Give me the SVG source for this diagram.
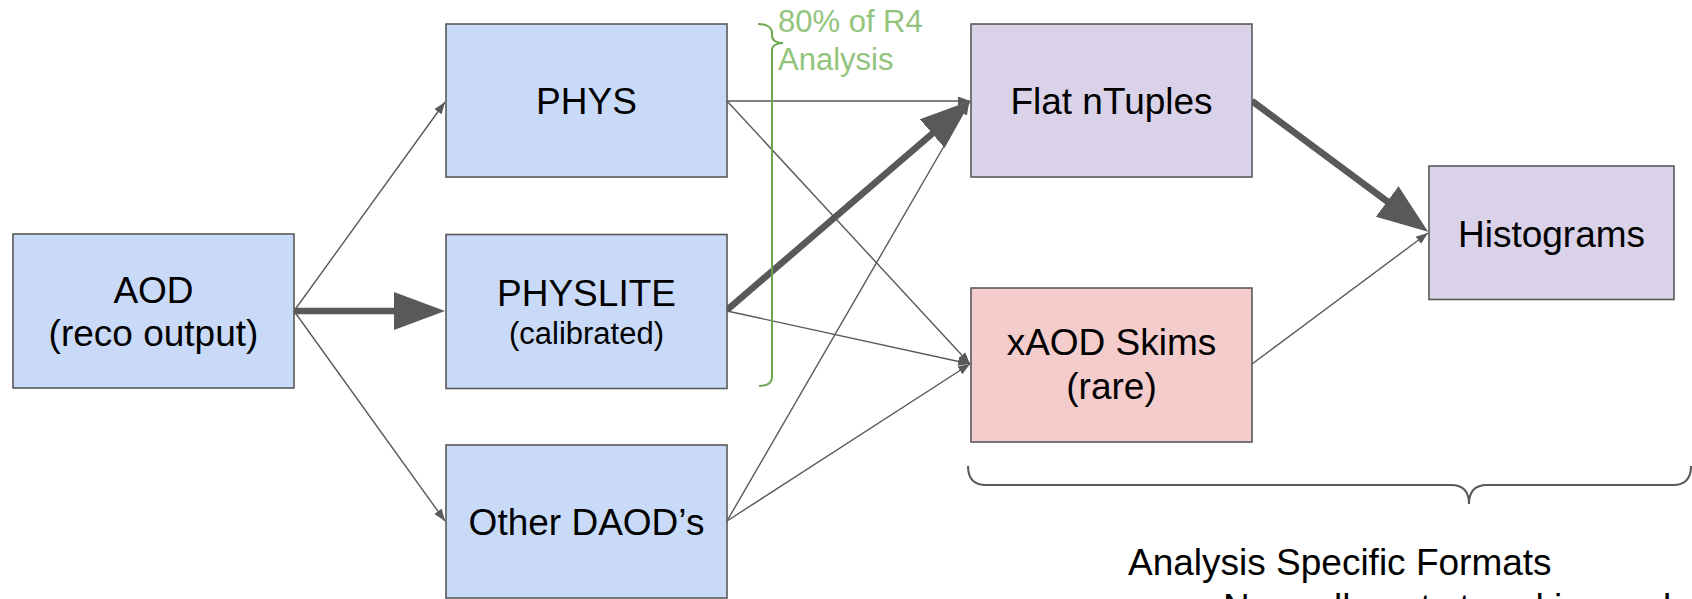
<svg xmlns="http://www.w3.org/2000/svg" width="1692" height="599" viewBox="0 0 1692 599">
<style>
.box{stroke:#595959;stroke-width:1.6}
.blue{fill:#c9daf8}
.purple{fill:#d9d2e9}
.pink{fill:#f4cccc}
.t{font-family:"Liberation Sans",Arial,sans-serif;font-size:37px;fill:#000;text-anchor:middle}
.ts{font-size:31px}
.thin{stroke:#595959;stroke-width:1.4;fill:none;marker-end:url(#ah)}
.thick{stroke:#595959;stroke-width:6.6;fill:none;marker-end:url(#AH)}
.green{font-family:"Liberation Sans",Arial,sans-serif;font-size:31px;fill:#93c47d}
.bt{font-family:"Liberation Sans",Arial,sans-serif;font-size:37px;fill:#000}
</style>
<defs>
<marker id="ah" markerUnits="userSpaceOnUse" markerWidth="14" markerHeight="10" refX="12" refY="4.5" orient="auto" viewBox="0 0 14 10">
<path d="M0,0 L12,4.5 L0,9 z" fill="#595959"/>
</marker>
<marker id="AH" markerUnits="userSpaceOnUse" markerWidth="52" markerHeight="40" refX="1" refY="19" orient="auto" viewBox="0 0 52 40">
<path d="M0,0 L51,19 L0,38 z" fill="#595959"/>
</marker>
</defs>
<g id="connectors">
<line class="thin" x1="294" y1="311" x2="445" y2="102"/>
<line class="thin" x1="294" y1="311" x2="445" y2="521"/>
<line class="thick" x1="294" y1="311" x2="395" y2="311"/>
<line class="thin" x1="727" y1="101" x2="970" y2="101"/>
<line class="thin" x1="727" y1="101" x2="970" y2="364"/>
<line class="thin" x1="727" y1="311" x2="970" y2="364"/>
<line class="thin" x1="727" y1="521" x2="969" y2="103"/>
<line class="thin" x1="727" y1="521" x2="970" y2="364"/>
<line class="thick" x1="727" y1="310" x2="933" y2="133"/>
<line class="thick" x1="1252" y1="101" x2="1388" y2="202"/>
<line class="thin" x1="1252" y1="364" x2="1428" y2="233"/>
</g>
<g id="aod"><rect class="box blue" x="13" y="234" width="281" height="154"/>
<text class="t" x="153.5" y="302.5">AOD</text><text class="t" x="153.5" y="345.5">(reco output)</text></g>
<g id="phys"><rect class="box blue" x="446" y="24" width="281" height="153"/>
<text class="t" x="586.5" y="114">PHYS</text></g>
<g id="physlite"><rect class="box blue" x="446" y="234.5" width="281" height="154"/>
<text class="t" x="586.5" y="305.5">PHYSLITE</text><text class="t ts" x="586.5" y="343.5">(calibrated)</text></g>
<g id="otherdaod"><rect class="box blue" x="446" y="445" width="281" height="153"/>
<text class="t" x="586.5" y="535">Other DAOD’s</text></g>
<g id="flat"><rect class="box purple" x="971" y="24" width="281" height="153"/>
<text class="t" x="1111.5" y="114">Flat nTuples</text></g>
<g id="xaod"><rect class="box pink" x="971" y="288" width="281" height="154"/>
<text class="t" x="1111.5" y="355">xAOD Skims</text><text class="t" x="1111.5" y="399">(rare)</text></g>
<g id="hist"><rect class="box purple" x="1429" y="166" width="245" height="133.5"/>
<text class="t" x="1551.5" y="246.5">Histograms</text></g>
<g id="green-brace">
<path d="M758,24 C766,24 772,27 772,33 L772,36 C772,40 776,43 783,43 C776,43 772,46 772,50 L772,377 C772,383 768,386 759,386" fill="none" stroke="#6aa84f" stroke-width="2"/>
<text class="green" x="778" y="32">80% of R4</text>
<text class="green" x="778" y="70">Analysis</text>
</g>
<g id="format-brace">
<path d="M968,466 C968,480 975,485 986,485 L1451,485 C1462,485 1469,490 1469,504 C1469,490 1476,485 1487,485 L1673,485 C1684,485 1691,480 1691,466" fill="none" stroke="#595959" stroke-width="2"/>
<text class="bt" x="1128" y="575">Analysis Specific Formats</text>
<text class="bt" x="1223" y="620">Normally not stored in any long-term storage</text>
</g>
</svg>
